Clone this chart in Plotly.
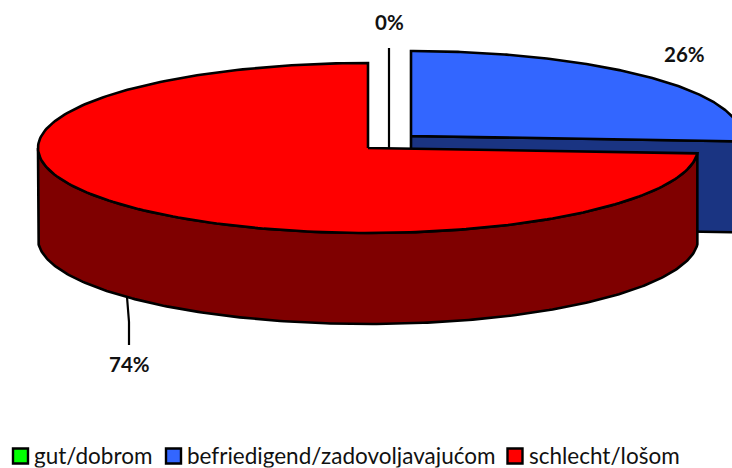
import numpy as np
import plotly.graph_objects as go

categories = ["gut/dobrom", "befriedigend/zadovoljavajućom", "schlecht/lošom"]
values = [0, 26, 74]
top_colors = ["#00ff00", "#3366ff", "#ff0000"]
side_colors = ["#008000", "#1a3482", "#7f0000"]

# Projection of the tilted pie into page pixels
RX, RY, DEPTH = 330, 85, 91
RED_APEX = (368, 148)
BLUE_APEX = (411, 136)
FONT = "Lato"

fig = go.Figure()
share = np.cumsum(values) / sum(values) * 2 * np.pi


def rim(apex, start, stop, drop=0, n=240):
    t = np.linspace(start, stop, n)
    return apex[0] + RX * np.sin(t), apex[1] - RY * np.cos(t) + drop


def poly(x, y, fill):
    fig.add_trace(go.Scatter(
        x=list(x) + [x[0]], y=list(y) + [y[0]], mode="lines", fill="toself",
        fillcolor=fill, line=dict(color="black", width=2.6),
        hoverinfo="skip", showlegend=False))


def leader(x, y):
    fig.add_trace(go.Scatter(x=x, y=y, mode="lines",
                             line=dict(color="black", width=2.2),
                             hoverinfo="skip", showlegend=False))


blue_end = share[1]
# Blue slice: cut face, then top
ex, ey = rim(BLUE_APEX, blue_end, blue_end, n=1)
poly([BLUE_APEX[0], ex[0], ex[0], BLUE_APEX[0]],
     [BLUE_APEX[1], ey[0], ey[0] + DEPTH, BLUE_APEX[1] + DEPTH], side_colors[1])
ax, ay = rim(BLUE_APEX, 0, blue_end)
poly([BLUE_APEX[0], *ax], [BLUE_APEX[1], *ay], top_colors[1])

# Leader of the empty slice
leader([389, 389], [48, 148])

# Red slice: outer wall, then top
tx, ty = rim(RED_APEX, blue_end, 1.5 * np.pi)
bx, by = rim(RED_APEX, 1.5 * np.pi, blue_end, drop=DEPTH)
poly([*tx, *bx], [*ty, *by], side_colors[2])
rx, ry = rim(RED_APEX, blue_end, 2 * np.pi)
poly([RED_APEX[0], *rx], [RED_APEX[1], *ry], top_colors[2])

# Leader of the large slice
leader([127, 129, 129], [297, 322, 345])

# Legend swatches
swatch_x = [20.5, 173.5, 515]
text_x = [33, 186, 528]
fig.add_trace(go.Scatter(
    x=swatch_x, y=[456, 456, 456], mode="markers",
    marker=dict(symbol="square", size=15, color=top_colors,
                line=dict(color="black", width=2.4)),
    hoverinfo="skip", showlegend=False))

annotations = [
    dict(x=xx, y=456, text=c, xanchor="left", yanchor="middle", showarrow=False,
         height=23.5, borderpad=0,
         font=dict(family=FONT, size=22.5, color="#111111"))
    for xx, c in zip(text_x, categories)
]
label_pos = [(389, 22), (684, 54), (129, 364)]
annotations += [
    dict(x=p[0], y=p[1], text=f"<b>{v}%</b>", xanchor="center", yanchor="middle",
         showarrow=False, font=dict(family=FONT, size=20.5, color="#111111"))
    for p, v in zip(label_pos, values)
]

fig.update_layout(
    width=732, height=468, margin=dict(l=0, r=0, t=0, b=0),
    paper_bgcolor="white", plot_bgcolor="white", annotations=annotations,
    xaxis=dict(range=[0, 732], visible=False, fixedrange=True),
    yaxis=dict(range=[468, 0], visible=False, fixedrange=True),
)
fig.write_html("out.html", config={"displayModeBar": False},
               post_script="document.body.style.margin='0';document.body.style.overflow='hidden';")
